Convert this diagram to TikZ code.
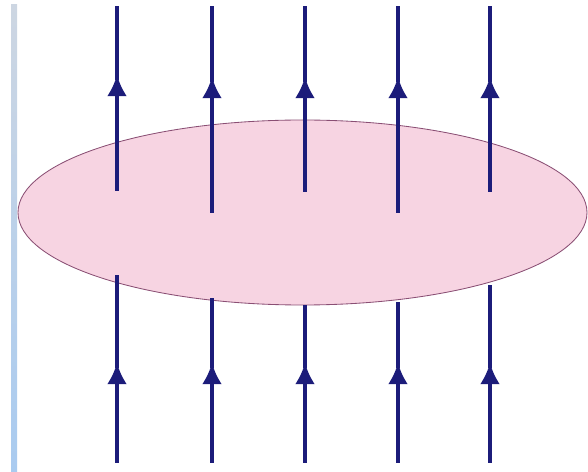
\documentclass[tikz,border=0pt]{standalone}
\usepackage{xcolor}
\usepackage{tikz}
\usetikzlibrary{arrows.meta}
\definecolor{fluxline}{HTML}{1C1C7A}
\definecolor{surffill}{HTML}{F7D4E2}
\definecolor{surfedge}{HTML}{8A4F74}
\definecolor{barlow}{HTML}{A9CBF0}
\definecolor{bartop}{HTML}{CDD6E2}

\begin{document}
\begin{tikzpicture}[
        x=0.025cm, y=-0.025cm,
        fline/.style={draw=fluxline, line width=2.2pt},
        tipl/.style={fline, -{Latex[length=15pt, width=14pt]}},
        surf/.style={fill=surffill, draw=surfedge, line width=0.6pt}
    ]
    \useasboundingbox (0,0) rectangle (588,472);

    % pita biru di tepi kiri
    \shade[top color=bartop, bottom color=barlow] (11,5) rectangle (17,472);

    % permukaan: elips
    \coordinate (pusat) at (302.5,212.5);
    \draw[surf] (pusat) ellipse [x radius=284.5, y radius=92.5];

    % =============== garis medan, bagian atas ===============
    \draw[tipl] (117,191) -- (117,75);  \draw[fline] (117,80) -- (117,6);
    \draw[tipl] (212,213) -- (212,77);  \draw[fline] (212,82) -- (212,6);
    \draw[tipl] (305,192) -- (305,77);  \draw[fline] (305,82) -- (305,6);
    \draw[tipl] (398,213) -- (398,77);  \draw[fline] (398,82) -- (398,6);
    \draw[tipl] (490,192) -- (490,77);  \draw[fline] (490,82) -- (490,6);

    % =============== garis medan, bagian bawah ===============
    \draw[tipl] (117,463) -- (117,363); \draw[fline] (117,368) -- (117,275);
    \draw[tipl] (212,463) -- (212,363); \draw[fline] (212,368) -- (212,298);
    \draw[tipl] (305,463) -- (305,363); \draw[fline] (305,368) -- (305,305);
    \draw[tipl] (398,463) -- (398,363); \draw[fline] (398,368) -- (398,302);
    \draw[tipl] (490,463) -- (490,363); \draw[fline] (490,368) -- (490,285);
\end{tikzpicture}
\end{document}
